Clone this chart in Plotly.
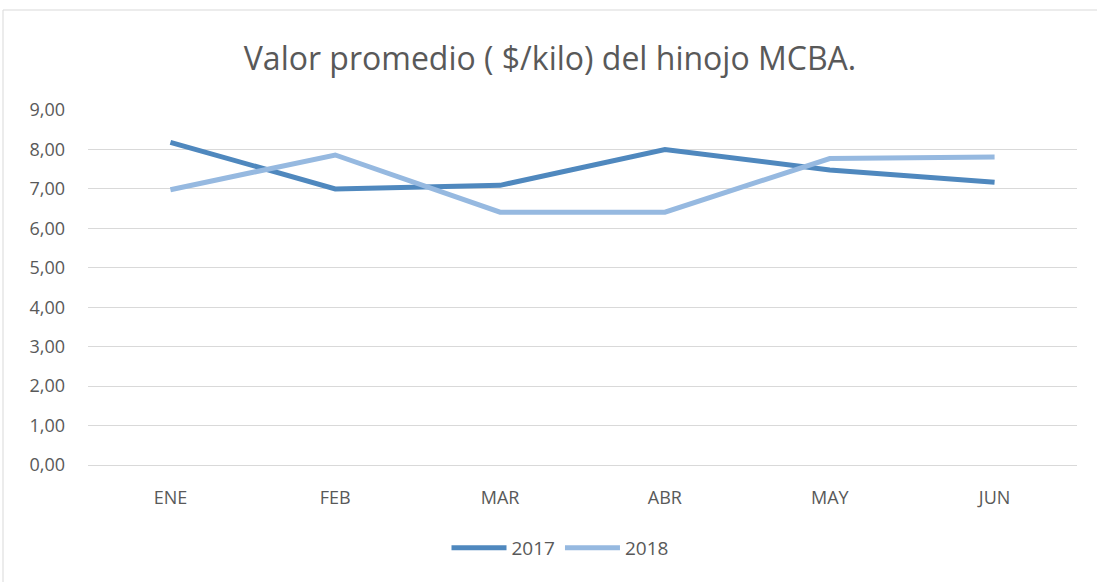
import plotly.graph_objects as go

months = ["ENE", "FEB", "MAR", "ABR", "MAY", "JUN"]
v2017 = [8.18, 7.00, 7.09, 8.00, 7.48, 7.17]
v2018 = [6.98, 7.86, 6.41, 6.41, 7.77, 7.81]
yticks = [0, 1, 2, 3, 4, 5, 6, 7, 8, 9]
ytext = [f"{v},00" for v in yticks]

FONT = "Open Sans"
GREY = "#595959"

fig = go.Figure()
fig.add_trace(go.Scatter(x=months, y=v2017, name="2017", mode="lines",
                         line=dict(color="#4F88BE", width=5)))
fig.add_trace(go.Scatter(x=months, y=v2018, name="2018", mode="lines",
                         line=dict(color="#96B9E0", width=5)))

L, R, T, B = 88, 20, 110, 117
W, H = 1097, 582
pw, ph = W - L - R, H - T - B

fig.update_layout(
    width=W, height=H,
    margin=dict(l=L, r=R, t=T, b=B),
    paper_bgcolor="white", plot_bgcolor="white",
    font=dict(family=FONT, color=GREY, size=17),
    title=dict(text="Valor promedio ( $/kilo) del hinojo MCBA.",
               x=550 / W, xref="container", xanchor="center",
               y=1 - 59 / H, yanchor="middle",
               font=dict(family=FONT, size=32, color=GREY)),
    showlegend=True,
    legend=dict(orientation="h", x=(560 - L) / pw, xanchor="center",
                y=-(548 - (H - B)) / ph, yanchor="middle",
                font=dict(family=FONT, size=19, color=GREY),
                itemwidth=55, traceorder="normal"),
    xaxis=dict(showgrid=False, showline=False, zeroline=False,
               range=[-0.5, 5.5], ticks="", ticklabelstandoff=20,
               tickfont=dict(size=18, color=GREY)),
    yaxis=dict(range=[0, 9], tickvals=yticks, ticktext=ytext,
               showgrid=True, gridcolor="#D9D9D9", gridwidth=1,
               zeroline=True, zerolinecolor="#D9D9D9", zerolinewidth=1,
               showline=False, ticks="", ticklabelstandoff=22,
               tickfont=dict(size=18, color=GREY)),
    shapes=[dict(type="rect", xref="paper", yref="paper",
                 x0=(3 - L) / pw, x1=(W + 5 - L) / pw,
                 y0=-(H + 5 - (H - B)) / ph, y1=(H - B - 10) / ph,
                 line=dict(color="#D9D9D9", width=1), fillcolor="rgba(0,0,0,0)",
                 layer="below")],
)

fig.write_html("out.html", config={"displayModeBar": False},
               post_script="document.body.style.margin='0';document.body.style.overflow='hidden';")
